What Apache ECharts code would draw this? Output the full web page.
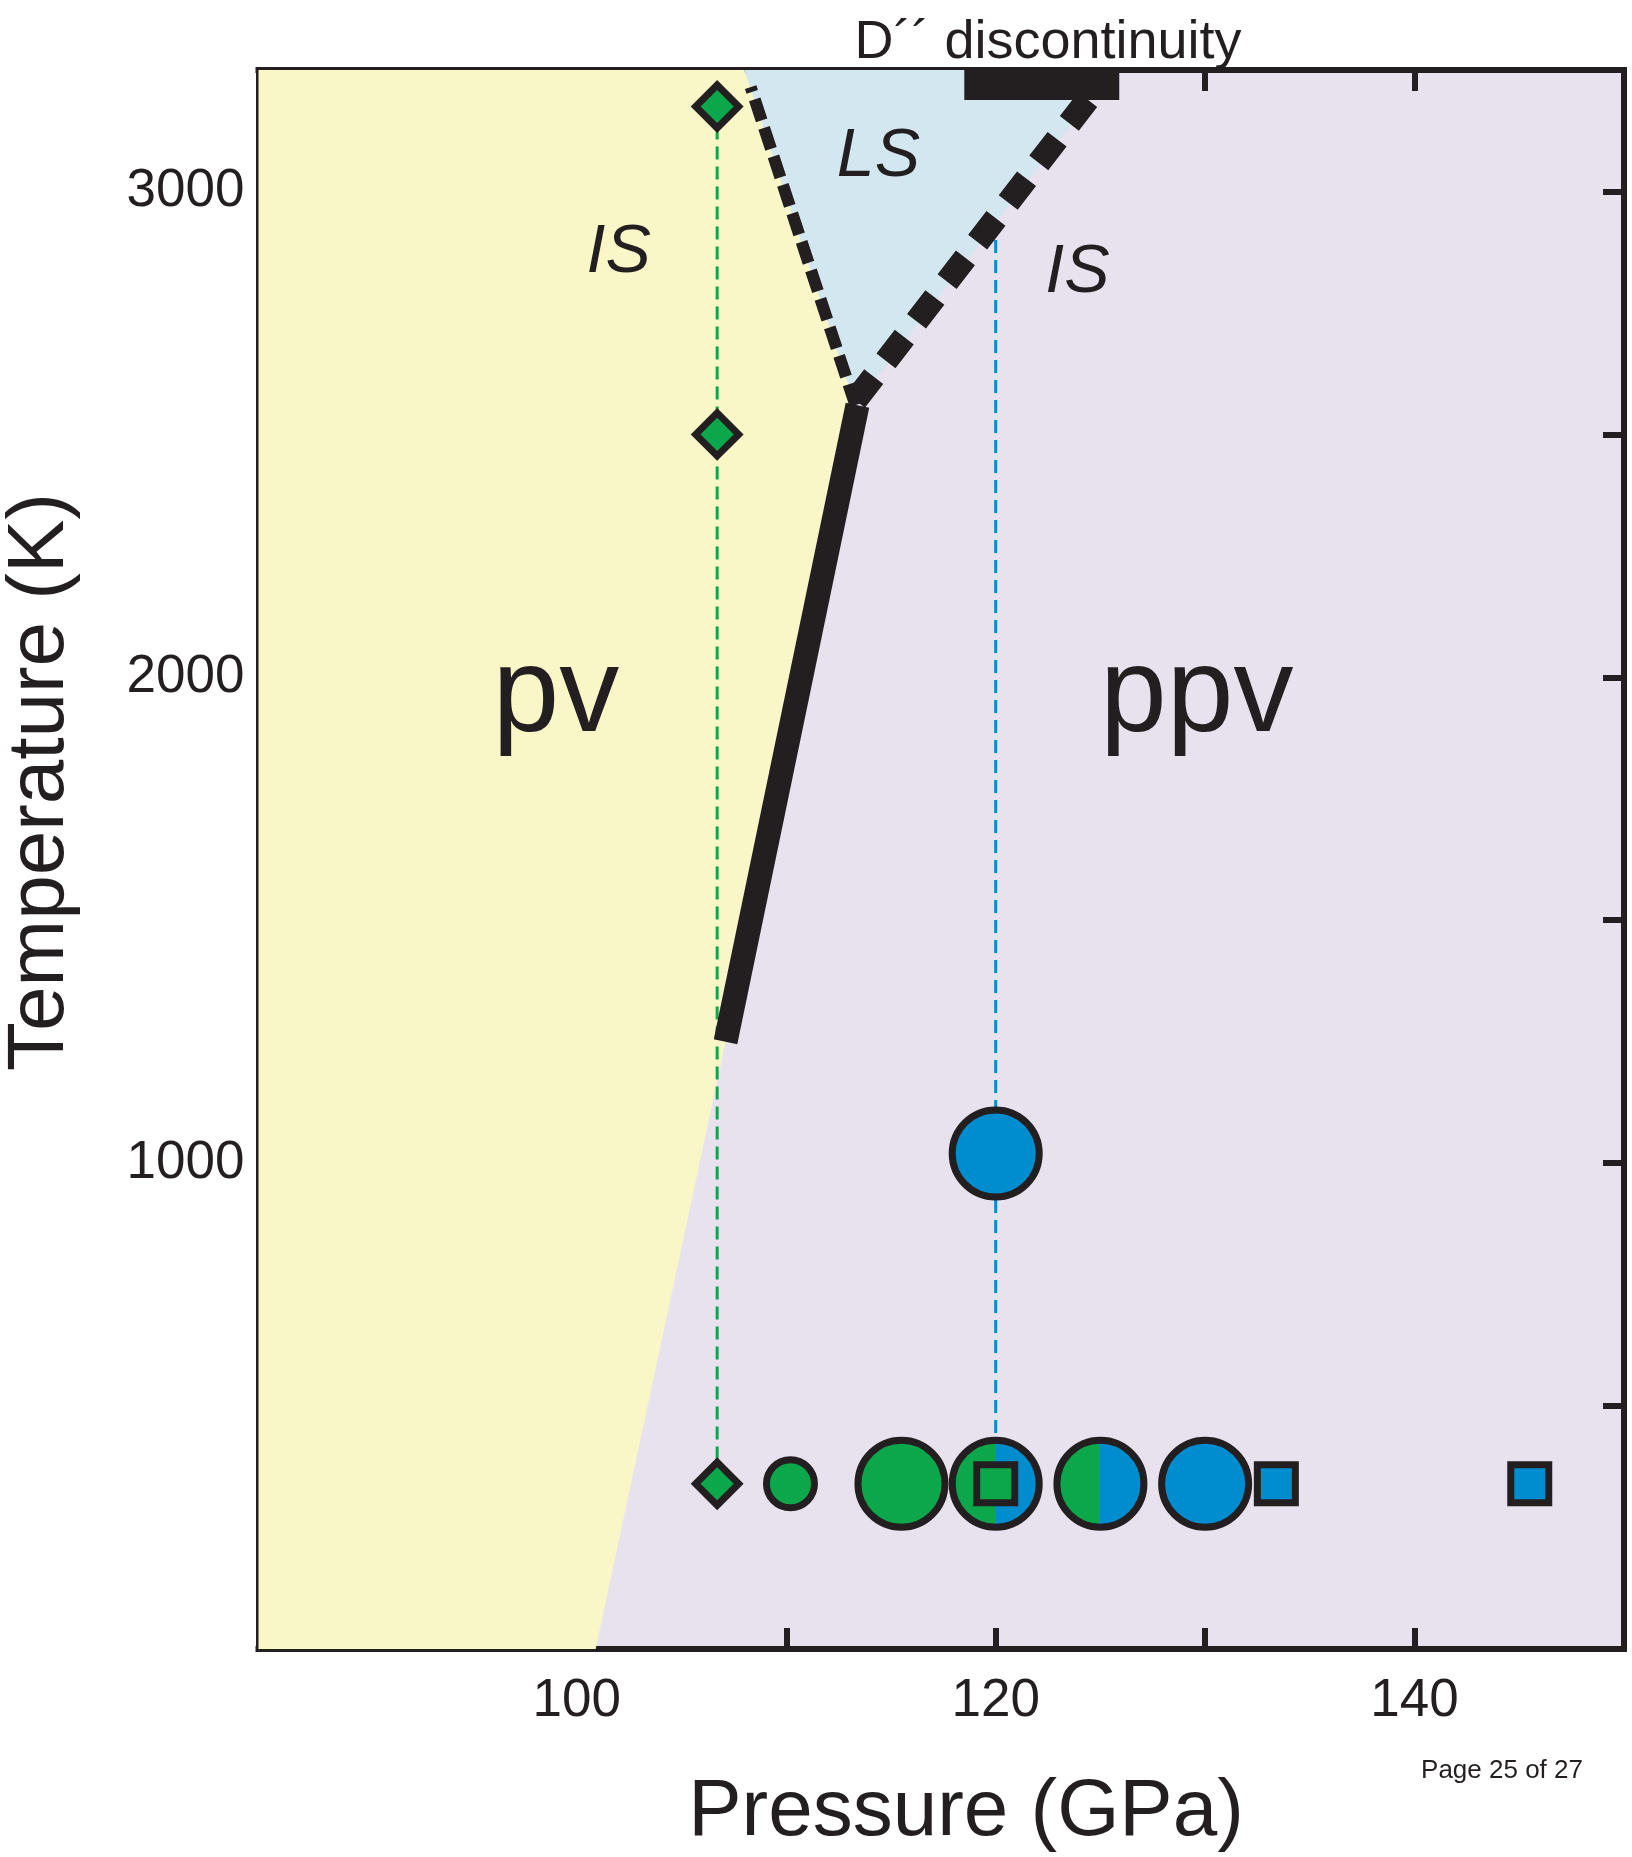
<!DOCTYPE html>
<html>
<head>
<meta charset="utf-8">
<title>Phase diagram: pv / ppv spin states</title>
<script src="https://cdn.jsdelivr.net/npm/echarts@6/dist/echarts.min.js"></script>
<style>
  html, body { margin: 0; padding: 0; background: #ffffff; }
  #chart { width: 1632px; height: 1857px; }
</style>
</head>
<body>
<div id="chart"></div>
<script>
// ---- axes (pressure in GPa, temperature in K) ----
const xRange = [84.8, 150];
const yRange = [0, 3250];
const xTicks = [90, 100, 110, 120, 130, 140];
const xTickLabels = [100, 120, 140];
const yTicks = [500, 1000, 1500, 2000, 2500, 3000];
const yTickLabels = [1000, 2000, 3000];

// ---- phase regions ----
const pvRegion = [[84.8, 0], [100.9, 0], [107.1, 1250], [113.3, 2560], [108.0, 3250], [84.8, 3250]];
const lsRegion = [[113.3, 2560], [108.0, 3250], [125.6, 3250]];

// ---- phase boundaries ----
const pvPpvBoundary = [[107.1, 1250], [113.4, 2560]];
const pvLsBoundary = [[113.3, 2560], [108.3, 3215]];
const lsIsBoundary = [[113.3, 2570], [124.5, 3195]];
const dDoublePrime = [[118.5, 3219], [125.9, 3219]];

// ---- experimental paths ----
const greenPath = [[106.7, 3175], [106.7, 340]];
const bluePath = [[120, 2900], [120, 340]];

// ---- data points ----
const greenDiamonds = [[106.7, 3175], [106.7, 2500], [106.7, 340]];
const greenSmallCircles = [[110.2, 340]];
const greenCircles = [[115.5, 340]];
const mixedCircles = [[120, 340], [125, 340]];
const blueCircles = [[130, 340], [120, 1020]];
const greenSquares = [[120, 340]];
const blueSquares = [[133.4, 340], [145.5, 340]];

// ---- region labels ----
const regionLabels = [
  { text: 'pv',  at: [99.0, 1958],  font: '120px "Liberation Sans", Arial, sans-serif' },
  { text: 'ppv', at: [129.6, 1958], font: '120px "Liberation Sans", Arial, sans-serif' },
  { text: 'LS',  at: [114.4, 3071], font: 'italic 68px "Liberation Sans", Arial, sans-serif' },
  { text: 'IS',  at: [102.0, 2874], font: 'italic 68px "Liberation Sans", Arial, sans-serif' },
  { text: 'IS',  at: [123.9, 2832], font: 'italic 68px "Liberation Sans", Arial, sans-serif' }
];

const INK = '#231f20';
const YELLOW = '#f9f6c8';
const LILAC = '#e7e2ee';
const ICE = '#d3e7f1';
const GREEN = '#0ca64b';
const BLUE = '#008dcf';
const FONT = '"Liberation Sans", Arial, Helvetica, sans-serif';

const chart = echarts.init(document.getElementById('chart'), null, { renderer: 'canvas' });

function regionSeries(points, color) {
  return {
    type: 'custom',
    coordinateSystem: 'cartesian2d',
    silent: true,
    z: 1,
    data: [points[0]],
    renderItem: (params, api) => ({
      type: 'polygon',
      shape: { points: points.map(p => api.coord(p)) },
      style: { fill: color }
    })
  };
}

function lineSeries(data, color, width, dash, z) {
  return {
    type: 'line',
    data: data,
    showSymbol: false,
    silent: true,
    z: z,
    lineStyle: { color: color, width: width, type: dash || 'solid', cap: 'butt' },
    animation: false
  };
}

function markerSeries(data, symbol, size, fill, z) {
  return {
    type: 'scatter',
    data: data,
    symbol: symbol,
    symbolSize: size,
    silent: true,
    z: z,
    itemStyle: { color: fill, borderColor: INK, borderWidth: 7, opacity: 1 },
    emphasis: { disabled: true }
  };
}

const splitFill = {
  type: 'linear', x: 0, y: 0, x2: 1, y2: 0,
  colorStops: [
    { offset: 0, color: GREEN }, { offset: 0.5, color: GREEN },
    { offset: 0.5, color: BLUE }, { offset: 1, color: BLUE }
  ]
};

function frameAxis(position, range, ticks, labels, isX) {
  return {
    type: 'value',
    position: position,
    min: range[0],
    max: range[1],
    axisLine: { show: true, onZero: false, lineStyle: { color: INK, width: 6, cap: 'square' } },
    axisTick: { show: true, inside: true, length: 21, customValues: ticks, lineStyle: { color: INK, width: 6 } },
    axisLabel: labels ? {
      show: true, customValues: labels, margin: isX ? 26 : 14,
      color: INK, fontSize: 53, fontFamily: FONT,
      formatter: v => String(v)
    } : { show: false },
    splitLine: { show: false }
  };
}

const option = {
  animation: false,
  backgroundColor: '#ffffff',
  grid: {
    left: 258.5, right: 8, top: 70, bottom: 208,
    show: true, backgroundColor: LILAC, borderWidth: 0,
    outerBoundsMode: 'none'
  },
  xAxis: [
    frameAxis('bottom', xRange, xTicks, xTickLabels, true),
    frameAxis('top', xRange, xTicks, null, true)
  ],
  yAxis: [
    frameAxis('left', yRange, yTicks, yTickLabels, false),
    frameAxis('right', yRange, yTicks, null, false)
  ],
  graphic: [
    {
      type: 'text', x: 1048, y: 43, z: 50,
      style: { text: 'D\u00b4\u00b4 discontinuity', fill: INK, font: '54px ' + FONT,
               textAlign: 'center', textVerticalAlign: 'middle', align: 'center', verticalAlign: 'middle' }
    },
    {
      type: 'text', x: 966, y: 1813, z: 50,
      style: { text: 'Pressure (GPa)', fill: INK, font: '80px ' + FONT,
               textAlign: 'center', textVerticalAlign: 'middle', align: 'center', verticalAlign: 'middle' }
    },
    {
      type: 'text', x: 41, y: 782, rotation: Math.PI / 2, z: 50,
      style: { text: 'Temperature (K)', fill: INK, font: '80px ' + FONT,
               textAlign: 'center', textVerticalAlign: 'middle', align: 'center', verticalAlign: 'middle' }
    },
    {
      type: 'text', x: 1502, y: 1771, z: 50,
      style: { text: 'Page 25 of 27', fill: INK, font: '26px ' + FONT,
               textAlign: 'center', textVerticalAlign: 'middle', align: 'center', verticalAlign: 'middle' }
    }
  ],
  series: [
    regionSeries(pvRegion, YELLOW),
    regionSeries(lsRegion, ICE),

    lineSeries(greenPath, GREEN, 3, [13, 7], 3),
    lineSeries(bluePath, BLUE, 3, [13, 7], 3),

    lineSeries(pvPpvBoundary, INK, 24, null, 4),
    lineSeries(pvLsBoundary, INK, 12, [22, 8], 4),
    lineSeries(lsIsBoundary, INK, 24, [30, 20], 4),
    lineSeries(dDoublePrime, INK, 30, null, 4),

    markerSeries(greenDiamonds, 'diamond', 43, GREEN, 6),
    markerSeries(greenSmallCircles, 'circle', 48, GREEN, 6),
    markerSeries(greenCircles, 'circle', 87, GREEN, 6),
    markerSeries(mixedCircles, 'circle', 87, splitFill, 6),
    markerSeries(blueCircles, 'circle', 87, BLUE, 6),
    markerSeries(greenSquares, 'rect', 38, GREEN, 7),
    markerSeries(blueSquares, 'rect', 38, BLUE, 7),

    {
      type: 'custom',
      coordinateSystem: 'cartesian2d',
      silent: true,
      z: 10,
      data: regionLabels.map(l => l.at),
      renderItem: (params, api) => {
        const lab = regionLabels[params.dataIndex];
        const p = api.coord(lab.at);
        return {
          type: 'text',
          x: p[0], y: p[1],
          style: { text: lab.text, fill: INK, font: lab.font,
                   textAlign: 'center', textVerticalAlign: 'middle', align: 'center', verticalAlign: 'middle' }
        };
      }
    }
  ]
};

chart.setOption(option);
</script>
</body>
</html>
